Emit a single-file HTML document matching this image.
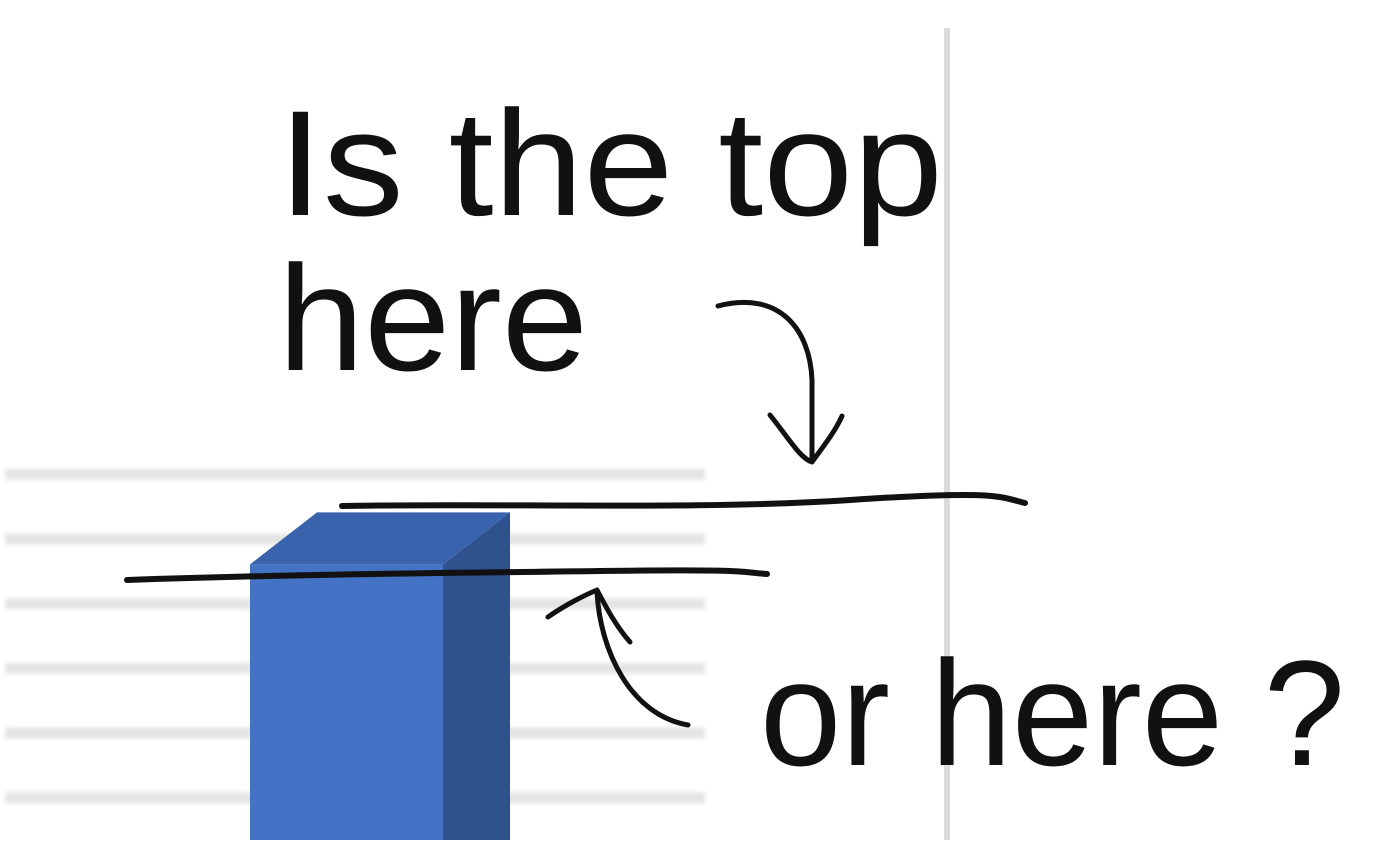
<!DOCTYPE html>
<html><head><meta charset="utf-8"><style>
html,body{margin:0;padding:0;background:#fff;width:1400px;height:868px;overflow:hidden}
svg{display:block}
text{font-family:"Liberation Sans",sans-serif;fill:#111}
</style></head><body>
<svg id="chart" width="1400" height="868" viewBox="0 0 1400 868">
<defs><filter id="blur" x="-5%" y="-50%" width="110%" height="200%"><feGaussianBlur stdDeviation="2"/></filter></defs>
<g id="grid" filter="url(#blur)"></g>
<rect x="944" y="28" width="6" height="812" fill="#dcdcdc"/>
<g id="bars"></g>
<g fill="none" stroke="#111" stroke-linecap="round" stroke-linejoin="round">
<path d="M342 506 C500 503,700 510,850 500 S1000 497,1025 503" stroke-width="6"/>
<path d="M127 580 C300 574,450 573,600 571 S740 572,767 574" stroke-width="6"/>
<path d="M718 306 C780 290,810 330,812 380 L812 458 M770 415 C790 440,800 458,812 462 C822 448,835 432,842 416" stroke-width="5"/>
<path d="M688 725 C630 715,600 650,597 592 M548 617 C565 605,585 595,597 590 C605 605,615 625,630 642" stroke-width="5"/>
</g>
<text x="278" y="215" font-size="150" textLength="665" lengthAdjust="spacingAndGlyphs">Is the top</text>
<text x="278" y="370" font-size="150" textLength="310" lengthAdjust="spacingAndGlyphs">here</text>
<text x="760" y="765" font-size="150" textLength="585" lengthAdjust="spacingAndGlyphs">or here ?</text>
</svg>
<script>
const categories=["A"];
const values=[4.6];
const gridTicks=[0,1,2,3,4,5,6];
const ns="http://www.w3.org/2000/svg";
const y0=862,yStep=64.7;
function y(v){return y0-v*yStep;}
const grid=document.getElementById('grid');
gridTicks.forEach(t=>{
 if(y(t)>840)return;
 const r=document.createElementNS(ns,'rect');
 r.setAttribute('x',5);r.setAttribute('y',y(t)-5);r.setAttribute('width',700);r.setAttribute('height',11);r.setAttribute('fill','#e4e4e4');
 
 
 grid.appendChild(r);
});
const bars=document.getElementById('bars');
categories.forEach((c,i)=>{
 const x=250,w=193,d=67,dy=52,top=y(values[i]),bot=840;
 const f=document.createElementNS(ns,'rect');
 f.setAttribute('x',x);f.setAttribute('y',top);f.setAttribute('width',w);f.setAttribute('height',bot-top);f.setAttribute('fill','#4472C4');
 
 
 bars.appendChild(f);
 const s=document.createElementNS(ns,'polygon');
 s.setAttribute('points',`${x+w},${top} ${x+w+d},${top-dy} ${x+w+d},${bot} ${x+w},${bot}`);s.setAttribute('fill','#2F528F');
 
 
 bars.appendChild(s);
 const t=document.createElementNS(ns,'polygon');
 t.setAttribute('points',`${x},${top} ${x+d},${top-dy} ${x+w+d},${top-dy} ${x+w},${top}`);t.setAttribute('fill','#3A63AE');
 
 
 bars.appendChild(t);
});
</script>
</body></html>
